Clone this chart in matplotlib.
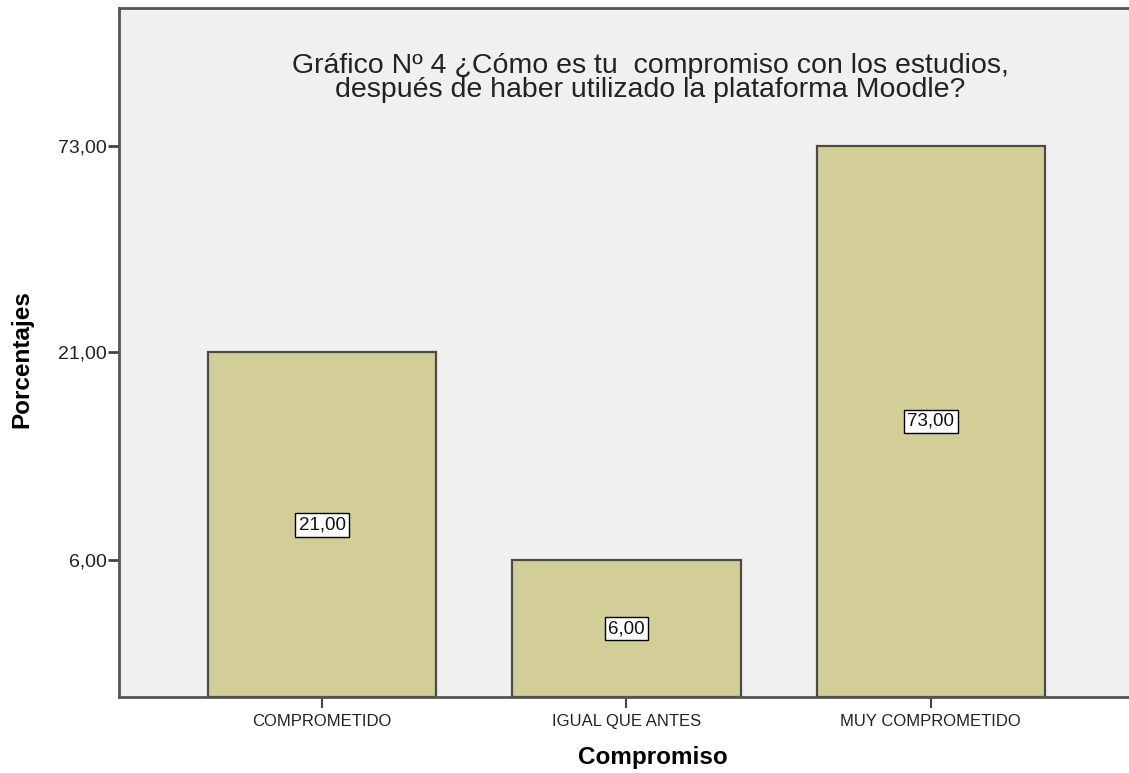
import matplotlib
matplotlib.use("Agg")
import matplotlib.pyplot as plt
import numpy as np
from matplotlib.ticker import FixedLocator, NullLocator

categories = ["COMPROMETIDO", "IGUAL QUE ANTES", "MUY COMPROMETIDO"]
values = [21.0, 6.0, 73.0]
tick_values = [6.0, 21.0, 73.0]
tick_labels = ["6,00", "21,00", "73,00"]
value_labels = ["21,00", "6,00", "73,00"]
title = "Gráfico Nº 4 ¿Cómo es tu  compromiso con los estudios,\ndespués de haber utilizado la plataforma Moodle?"
xlabel = "Compromiso"
ylabel = "Porcentajes"

plt.rcParams['font.family'] = ['Liberation Sans', 'DejaVu Sans']

fig = plt.figure(figsize=(11.29, 7.73), dpi=100)
ax = fig.add_axes([119/1129, 76/773, 1 - 119/1129 + 0.005, 689/773])
ax.set_facecolor("#F0F0F0")

ymin, ymax = 2.625, 167.8
ax.set_yscale("log")
ax.set_ylim(ymin, ymax)
ax.set_xlim(-0.667, 2.67)

x = np.arange(len(categories))
ax.bar(x, [v - ymin for v in values], bottom=ymin, width=0.75, color="#D3CE97",
       edgecolor="#4A4A4A", linewidth=1.6, zorder=2)

for xi, v, lab in zip(x, values, value_labels):
    ymid = np.sqrt(ymin * v)
    ax.text(xi, ymid, lab, ha="center", va="center", fontsize=13.5, color="#111111",
            bbox=dict(boxstyle="square,pad=0.18", facecolor="white", edgecolor="black", linewidth=1.0),
            zorder=3)

ax.yaxis.set_major_locator(FixedLocator(tick_values))
ax.yaxis.set_minor_locator(NullLocator())
ax.set_yticklabels(tick_labels)
ax.set_xticks(x)
ax.set_xticklabels(categories)

ax.tick_params(axis="y", direction="out", length=8, width=2, color="#444444", labelsize=14, pad=1, labelcolor="#222222")
ax.tick_params(axis="x", direction="out", length=8, width=1.5, color="#444444", labelsize=12, pad=4, labelcolor="#222222")

for s in ["left", "bottom", "top"]:
    ax.spines[s].set_color("#555555")
    ax.spines[s].set_linewidth(2)
ax.spines["right"].set_visible(False)

ax.text(0.523, 0.898, title, transform=ax.transAxes, ha="center", va="center",
        fontsize=20.5, color="#222222", linespacing=0.9)

ax.set_xlabel(xlabel, fontsize=17.5, fontweight="bold", va="center")
ax.xaxis.set_label_coords(0.526, -0.0885)
ax.set_ylabel(ylabel, fontsize=17.5, fontweight="bold", va="center")
ax.yaxis.set_label_coords(-0.0955, 0.49)

fig.savefig("out.png", dpi=100, facecolor="white")
